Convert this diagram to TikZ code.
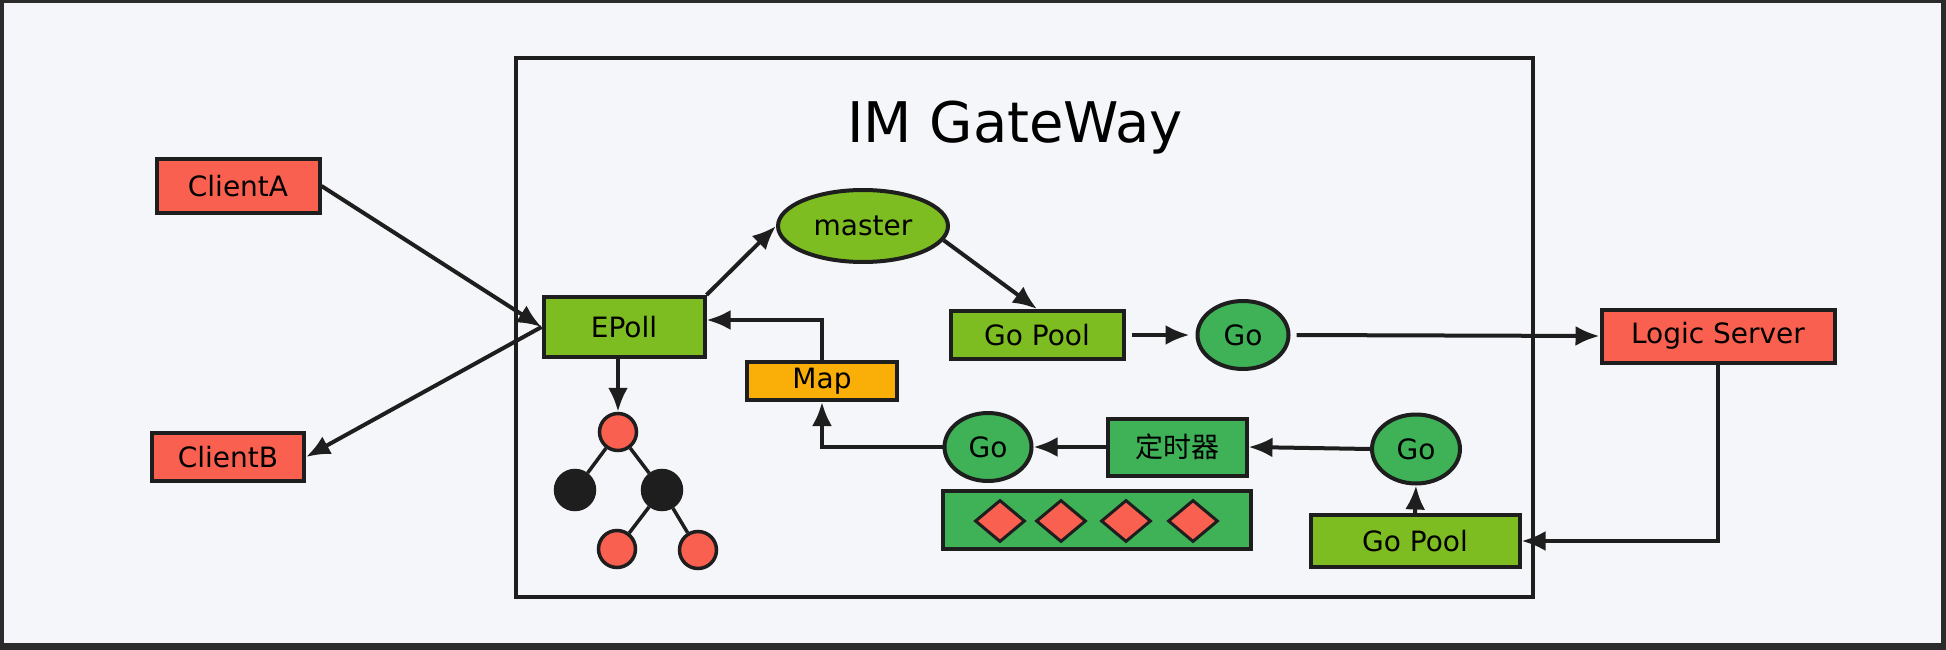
\documentclass[tikz,border=0pt]{standalone}
\usepackage{fontspec}
\setmainfont{DejaVu Sans}
\newfontfamily\cjkfont{Noto Sans CJK SC}
\usetikzlibrary{arrows.meta,positioning,shapes.geometric}
\definecolor{ink}{HTML}{1E1E1E}
\definecolor{frame}{HTML}{2B2B2B}
\definecolor{paper}{HTML}{F5F6F9}
\definecolor{cRed}{HTML}{F9604F}
\definecolor{cLime}{HTML}{7DBD22}
\definecolor{cGreen}{HTML}{3FB257}
\definecolor{cAmber}{HTML}{FAAF08}
\begin{document}
\begin{tikzpicture}[x=1pt,y=-1pt,
  box/.style={draw=ink,line width=4pt,inner sep=0pt,font=\fontsize{28}{32}\selectfont},
  client/.style={box,fill=cRed},
  lime/.style={box,fill=cLime},
  deep/.style={box,fill=cGreen},
  gonode/.style={box,ellipse,fill=cGreen},
  tnode/.style={circle,draw=ink,line width=3.5pt,minimum size=37pt,inner sep=0pt},
  dia/.style={diamond,draw=ink,line width=3pt,fill=cRed,minimum width=50pt,minimum height=42pt,inner sep=0pt},
  ar/.style={-{Latex[length=24pt,width=20pt]},line width=4pt,draw=ink}]

% canvas
\useasboundingbox (0,0) rectangle (1946,650);
\fill[frame] (0,0) rectangle (1946,650);
\fill[paper] (4,3) rectangle (1941,643);

% gateway frame
\node[draw=ink,line width=3.5pt,minimum width=1017pt,minimum height=539pt,inner sep=0pt] (gw) at (1024.5,327.5) {};
\node[font=\fontsize{56}{60}\selectfont] (title) at (1015,128) {IM GateWay};

% clients
\node[client,minimum width=163pt,minimum height=54pt] (clienta) at (238,186) {ClientA};
\node[client,minimum width=152pt,minimum height=48pt] (clientb) at (228,457) {ClientB};

% epoll side
\node[lime,minimum width=161pt,minimum height=60pt] (epoll) at (624,327) {EPoll};
\node[lime,ellipse,minimum width=170pt,minimum height=72pt] (master) at (863,226) {master};
\node[box,fill=cAmber,minimum width=150pt,minimum height=38pt] (map) at (822,381) {Map};

% red-black tree
\node[tnode,fill=cRed] (t0) at (618,432) {};
\node[tnode,fill=ink,minimum size=39pt] (t1) at (575,490) {};
\node[tnode,fill=ink,minimum size=39pt] (t2) at (662,490) {};
\node[tnode,fill=cRed] (t3) at (617,549) {};
\node[tnode,fill=cRed] (t4) at (698,550) {};

% upper track
\node[lime,minimum width=173pt,minimum height=48pt] (gopool1) at (1037,335) {Go Pool};
\node[gonode,minimum width=91pt,minimum height=68pt,right=70pt of gopool1] (go1) {Go};
\node[client,minimum width=233pt,minimum height=53pt] (logic) at (1718,336) {Logic Server};

% lower track
\node[gonode,minimum width=87pt,minimum height=68pt] (go2) at (988,447) {Go};
\node[deep,minimum width=139pt,minimum height=57pt,right=72pt of go2] (timer) {\cjkfont 定时器};
\node[gonode,minimum width=88pt,minimum height=69pt] (go3) at (1416,449) {Go};
\node[deep,minimum width=308pt,minimum height=58pt] (queue) at (1097,520) {};
\foreach \x [count=\i] in {1000,1061,1126,1193}
  \node[dia] (d\i) at (\x,521) {};
\node[lime,minimum width=209pt,minimum height=52pt] (gopool2) at (1415,541) {Go Pool};

% connectors
\draw[ar] (clienta.east) -- (epoll.west);
\draw[ar] (epoll.west) -- (clientb.east);
\draw[ar] (epoll.north east) -- (master.west);
\draw[ar] (master.-10) -- (gopool1.north);
\draw[ar] (map.north) |- ([yshift=7pt]epoll.east);
\draw[ar] (t0 |- epoll.south) -- (t0.north);
\draw[line width=3.5pt,ink] (t0) -- (t1) (t0) -- (t2) (t2) -- (t3) (t2) -- (t4);
\draw[ar,shorten <=6pt,shorten >=6pt] (gopool1.east) -- (go1.west);
\draw[ar,shorten <=6pt] (go1.east) -- (logic.west);
\draw[ar] (logic.south) |- (gopool2.east);
\draw[ar] (gopool2.north) -- (go3.south);
\draw[ar] (go3.west) -- (timer.east);
\draw[ar] (timer.west) -- (go2.east);
\draw[ar] (go2.west) -| (map.south);
\end{tikzpicture}
\end{document}
